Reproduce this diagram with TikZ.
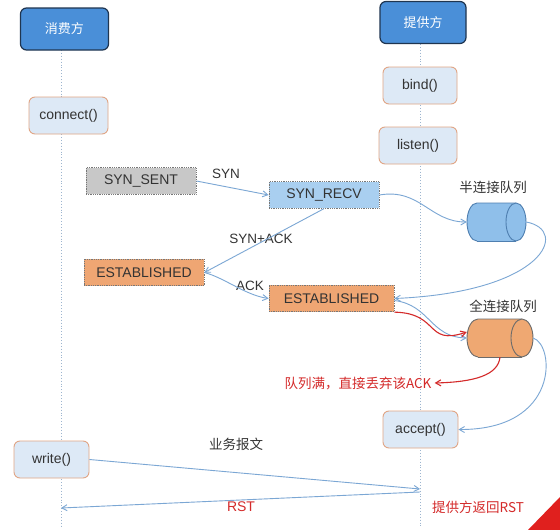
\documentclass[tikz,border=0pt]{standalone}
\usepackage{fontspec}
\setmainfont{Liberation Sans}
\newfontfamily\cjk{Noto Sans CJK SC}
\usetikzlibrary{backgrounds,arrows.meta}
\definecolor{hdrfill}{HTML}{4A8FD8}
\definecolor{hdrline}{HTML}{1F3550}
\definecolor{fnfill}{HTML}{DDE9F6}
\definecolor{fnline}{HTML}{E0A585}
\definecolor{txt}{HTML}{333333}
\definecolor{sentfill}{HTML}{C8C8C8}
\definecolor{recvfill}{HTML}{A9CFF0}
\definecolor{estfill}{HTML}{EFA673}
\definecolor{stline}{HTML}{777777}
\definecolor{q1fill}{HTML}{8FBFEA}
\definecolor{q1line}{HTML}{4F7FB0}
\definecolor{q2fill}{HTML}{EFA872}
\definecolor{q2line}{HTML}{6B6B6B}
\definecolor{arrblue}{HTML}{7BA7D4}
\definecolor{arrred}{HTML}{D42A2A}
\definecolor{lifec}{HTML}{9DB5CF}
\definecolor{wmred}{HTML}{E0201E}
\tikzset{
  hdr/.style={draw=hdrline, line width=1.2pt, fill=hdrfill, rounded corners=6pt,
    minimum width=88pt, minimum height=42pt, text=white, inner sep=0pt,
    font=\cjk\fontsize{13}{15}\selectfont},
  fnbox/.style={draw=fnline, line width=0.9pt, fill=fnfill, rounded corners=6pt,
    minimum height=37pt, inner sep=0pt, text=txt, font=\fontsize{14}{16}\selectfont},
  stbox/.style={draw=stline, densely dotted, line width=0.8pt, minimum height=26.5pt,
    inner sep=0pt, text=txt, font=\fontsize{14}{16}\selectfont},
  qanchor/.style={inner sep=0pt, draw=none},
  lbl/.style={text=txt, font=\fontsize{13.5}{15}\selectfont, inner sep=0pt},
  cjklbl/.style={text=txt, font=\cjk\fontsize{13.5}{15}\selectfont, inner sep=0pt},
  redlbl/.style={text=arrred, font=\cjk\fontsize{13.5}{15}\selectfont, inner sep=0pt},
  life/.style={draw=lifec, dotted, line width=0.9pt},
  barr/.style={draw=arrblue, line width=0.9pt, -{Straight Barb[angle=60:6pt]}},
  rarr/.style={draw=arrred, line width=1.1pt, -{Straight Barb[angle=60:6pt]}}
}
\begin{document}
\begin{tikzpicture}[x=1pt,y=-1pt]
\useasboundingbox (0,0) rectangle (560,530);

% headers
\node[hdr] (h1) at (64.5,29) {消费方};
\node[hdr, minimum width=86pt] (h2) at (423,22.5) {提供方};

% lifeline coordinates
\coordinate (l1top) at (61,50);
\coordinate (l1bot) at (61,526);
\coordinate (l2top) at (420,44);
\coordinate (l2bot) at (420,526);
\coordinate (rcv) at (420,489);
\coordinate (snd) at (420,492);
\coordinate (cl) at (61,508);

% function boxes
\node[fnbox, minimum width=79pt] (conn) at (68.5,115.5) {connect()};
\node[fnbox, minimum width=74pt] (bind) at (420,85.5) {bind()};
\node[fnbox, minimum width=78pt] (listen) at (418,145.5) {listen()};
\node[fnbox, minimum width=75pt] (accept) at (420.5,429.5) {accept()};
\node[fnbox, minimum width=75pt] (write) at (51.5,459.5) {write()};

% state boxes
\node[stbox, fill=sentfill, minimum width=110pt] (sent) at (141,181) {SYN\_SENT};
\node[stbox, fill=recvfill, minimum width=110pt] (recv) at (324,195) {SYN\_RECV};
\node[stbox, fill=estfill, minimum width=120pt] (est1) at (144,272.5) {ESTABLISHED};
\node[stbox, fill=estfill, minimum width=125pt] (est2) at (331.5,298.5) {ESTABLISHED};

% queues (horizontal cylinders)
\node[qanchor, minimum width=59pt, minimum height=38pt] (q1) at (496.5,222) {};
\fill[q1fill] (477,203) rectangle (516,241);
\fill[q1fill] (477,222) ellipse [x radius=10, y radius=19];
\draw[q1line, line width=0.9pt] (477,241) arc[start angle=90, end angle=270, x radius=10, y radius=19]
  -- (516,203);
\draw[q1line, line width=0.9pt] (477,241) -- (516,241);
\filldraw[fill=q1fill, draw=q1line, line width=0.9pt] (516,222) ellipse [x radius=10, y radius=19];

\node[qanchor, minimum width=66pt, minimum height=38pt] (q2) at (500,338) {};
\fill[q2fill] (478,319) rectangle (522,357);
\fill[q2fill] (478,338) ellipse [x radius=11, y radius=19];
\draw[q2line, line width=0.9pt] (478,357) arc[start angle=90, end angle=270, x radius=11, y radius=19]
  -- (522,319);
\draw[q2line, line width=0.9pt] (478,357) -- (522,357);
\filldraw[fill=q2fill, draw=q2line, line width=0.9pt] (522,338) ellipse [x radius=11, y radius=19];

% labels
\node[cjklbl] (q1lbl) at (493,187) {半连接队列};
\node[cjklbl] (q2lbl) at (503,306) {全连接队列};
\node[lbl] (synl) at (226,174) {SYN};
\node[lbl] (synackl) at (261,239) {SYN+ACK};
\node[lbl] (ackl) at (250,286) {ACK};
\node[cjklbl] (bizl) at (236,444) {业务报文};
\node[redlbl] (fulll) at (358,383) {队列满，直接丢弃该ACK};
\node[redlbl, font=\fontsize{14}{15}\selectfont] (rstl) at (241,507) {RST};
\node[redlbl] (prstl) at (478,507) {提供方返回RST};

% background and lifelines behind
\begin{scope}[on background layer]
\fill[white] (0,0) rectangle (560,530);
\draw[life] (l1top) -- (l1bot);
\draw[life] (l2top) -- (l2bot);
\end{scope}

% connectors
\draw[barr] (sent.east) -- (recv.west);
\draw[barr] (recv.south) -- (est1.east);
\draw[barr] (est1.east) .. controls (225,278) and (245,295) .. (est2.west);
\draw[barr] (recv.east) .. controls (420,188) and (430,222) .. (q1.west);
\draw[barr] (q1.east) .. controls (570,230) and (545,292) .. (est2.east);
\draw[barr] ([yshift=-2pt]est2.east) .. controls (430,305) and (430,337) .. (q2.west);
\draw[rarr] (est2.south east) .. controls (440,313) and (425,346) .. ([yshift=6pt]q2.west);
\draw[rarr] (q2.south) .. controls (498,375) and (475,382) .. ([xshift=3pt]fulll.east);
\draw[barr] (q2.east) .. controls (555,345) and (560,430) .. (accept.east);
\draw[barr] (write.east) -- (rcv);
\draw[barr] (snd) -- (cl);

% watermark corner
\fill[wmred] (528,530) -- (560,497) -- (560,530) -- cycle;
\end{tikzpicture}
\end{document}
